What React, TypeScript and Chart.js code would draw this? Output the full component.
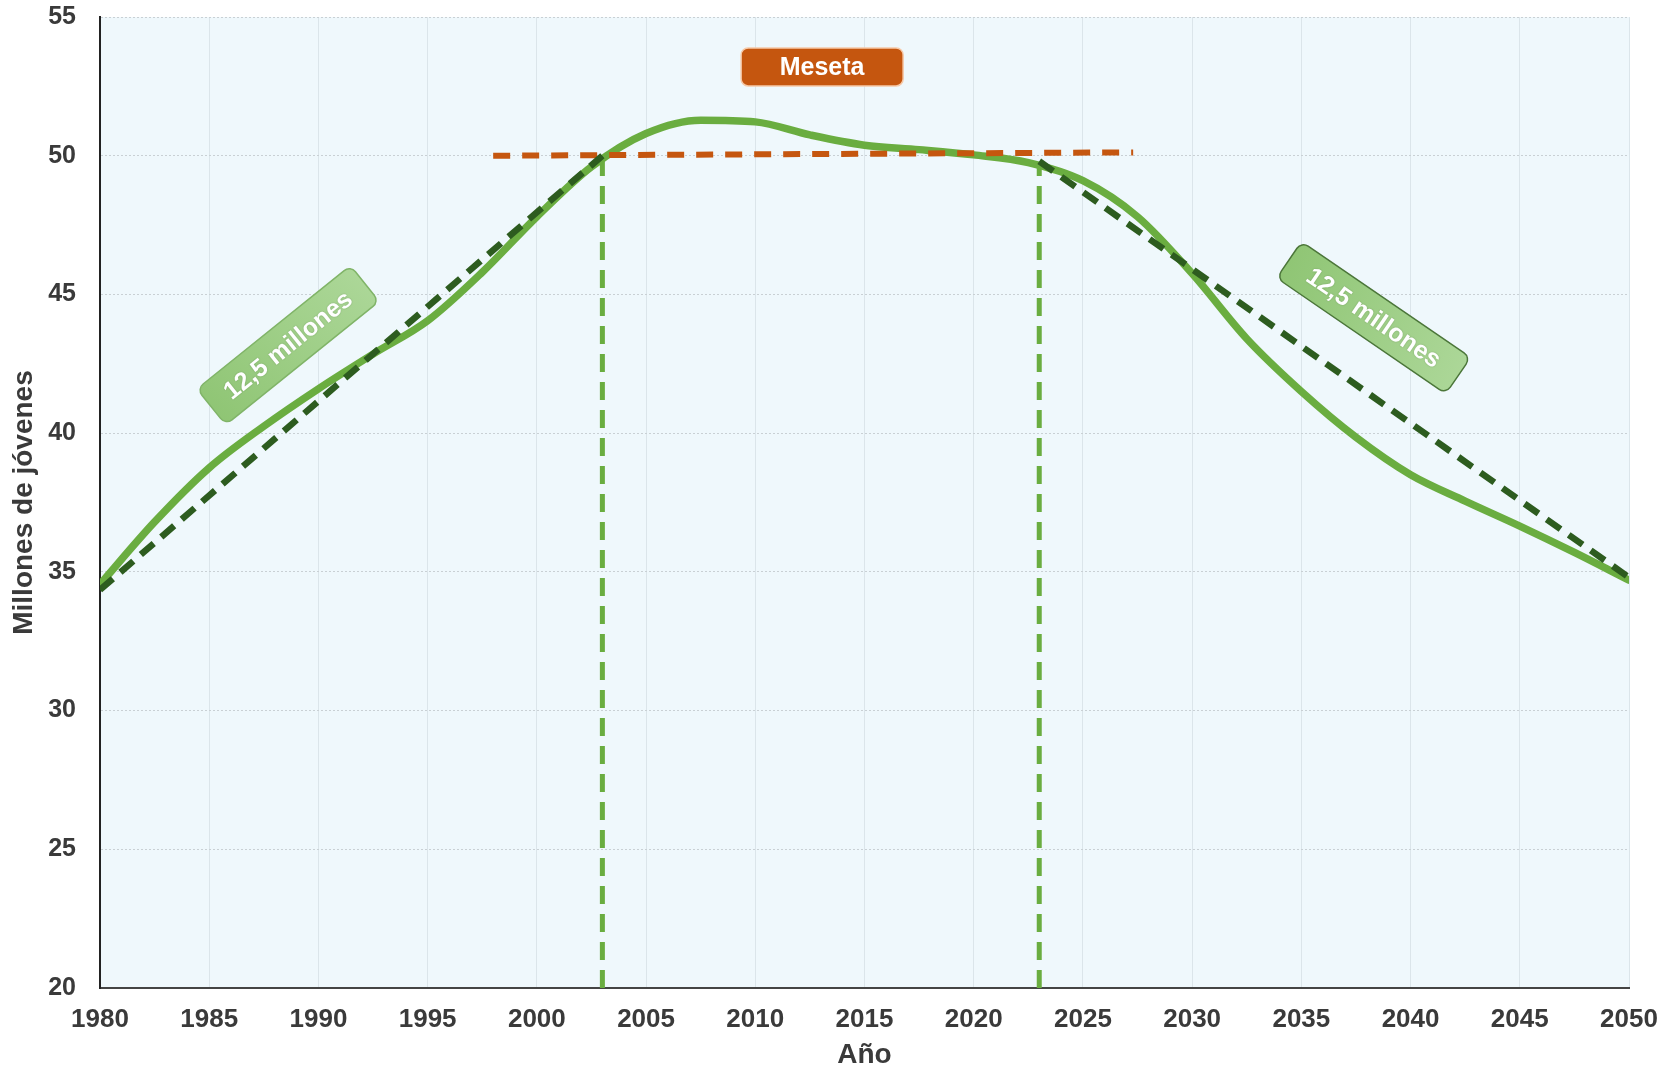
import React, { useEffect, useRef } from "react";
import { Chart, registerables } from "chart.js";

Chart.register(...registerables);

// ---------- data ----------
const years = [
  1980, 1982.5, 1985, 1987.5, 1990, 1992.5, 1995, 1997.5, 2000, 2002.5,
  2005, 2007.5, 2010, 2012.5, 2015, 2017.5, 2020, 2022.5, 2025, 2027.5,
  2030, 2032.5, 2035, 2037.5, 2040, 2042.5, 2045, 2047.5, 2050,
];
const youthMillions = [
  34.55, 36.8, 38.75, 40.25, 41.6, 42.85, 44.05, 45.8, 47.8, 49.6,
  50.8, 51.28, 51.22, 50.75, 50.38, 50.22, 50.03, 49.75, 49.1, 47.8,
  45.75, 43.4, 41.5, 39.85, 38.5, 37.55, 36.65, 35.7, 34.7,
];

const riseTrendYears = [1980, 2003];
const riseTrendValues = [34.35, 50.0];
const fallTrendYears = [2023, 2050];
const fallTrendValues = [49.8, 34.8];
const plateauYears = [1998, 2027.3];
const plateauValues = [50.0, 50.12];
const plateauStartYears = [2003, 2003];
const plateauStartValues = [20, 50.0];
const plateauEndYears = [2023, 2023];
const plateauEndValues = [20, 49.75];

const xTickValues = [1980, 1985, 1990, 1995, 2000, 2005, 2010, 2015, 2020, 2025, 2030, 2035, 2040, 2045, 2050];
const yTickValues = [20, 25, 30, 35, 40, 45, 50, 55];

const xTitle = "Año";
const yTitle = "Millones de jóvenes";
const plateauLabel = "Meseta";
const changeLabel = "12,5 millones";

// ---------- helpers ----------
const toPoints = (xs: number[], ys: number[]) => xs.map((x, i) => ({ x, y: ys[i] }));

const SANS = '"Liberation Sans", Arial, Helvetica, sans-serif';

const backgroundPlugin = {
  id: "plotBackground",
  beforeDraw(chart: any) {
    const { ctx, chartArea } = chart;
    ctx.save();
    ctx.fillStyle = "#ffffff";
    ctx.fillRect(0, 0, chart.width, chart.height);
    ctx.fillStyle = "#eff8fc";
    ctx.fillRect(chartArea.left, chartArea.top, chartArea.right - chartArea.left, chartArea.bottom - chartArea.top);
    ctx.restore();
  },
};

const annotationPlugin = {
  id: "labels",
  afterDatasetsDraw(chart: any) {
    const { ctx, scales } = chart;
    const xs = scales.x;
    const ys = scales.y;

    // "Meseta" box
    const mx = xs.getPixelForValue(2013.06);
    const my = ys.getPixelForValue(53.2);
    ctx.save();
    ctx.beginPath();
    ctx.roundRect(mx - 81, my - 19, 162, 38, 7);
    ctx.fillStyle = "#c5560f";
    ctx.fill();
    ctx.lineWidth = 1.5;
    ctx.strokeStyle = "#f6c9a8";
    ctx.stroke();
    ctx.fillStyle = "#ffffff";
    ctx.font = `bold 25px ${SANS}`;
    ctx.textAlign = "center";
    ctx.textBaseline = "middle";
    ctx.fillText(plateauLabel, mx, my + 1);
    ctx.restore();

    // rotated green labels
    const boxes = [
      { x: 1988.61, y: 43.17, angle: -38.8, w: 197, h: 46, stroke: "#80b468" },
      { x: 2038.31, y: 44.16, angle: 34.4, w: 205, h: 44, stroke: "#4b7639" },
    ];
    boxes.forEach((b) => {
      const px = xs.getPixelForValue(b.x);
      const py = ys.getPixelForValue(b.y);
      ctx.save();
      ctx.translate(px, py);
      ctx.rotate((b.angle * Math.PI) / 180);
      const g = ctx.createLinearGradient(-b.w / 2, b.h / 2, b.w / 2, -b.h / 2);
      g.addColorStop(0, "#8fc574");
      g.addColorStop(1, "#acd798");
      ctx.beginPath();
      ctx.roundRect(-b.w / 2, -b.h / 2, b.w, b.h, 8);
      ctx.fillStyle = g;
      ctx.fill();
      ctx.lineWidth = 1.5;
      ctx.strokeStyle = b.stroke;
      ctx.stroke();
      ctx.fillStyle = "#ffffff";
      ctx.shadowColor = "rgba(40,70,30,0.3)";
      ctx.shadowBlur = 2;
      ctx.font = `bold 25px ${SANS}`;
      ctx.textAlign = "center";
      ctx.textBaseline = "middle";
      ctx.fillText(changeLabel, 0, 1);
      ctx.restore();
    });
  },
};

export default function App() {
  const canvasRef = useRef<HTMLCanvasElement | null>(null);

  useEffect(() => {
    if (!canvasRef.current) return;
    const lineBase = { pointRadius: 0, pointHoverRadius: 0, fill: false, tension: 0 };
    const chart = new Chart(canvasRef.current, {
      type: "line",
      data: {
        datasets: [
          {
            ...lineBase,
            label: "Jóvenes",
            data: toPoints(years, youthMillions),
            borderColor: "#6aad40",
            borderWidth: 7.5,
            cubicInterpolationMode: "monotone",
            borderCapStyle: "round",
            order: 4,
          },
          {
            ...lineBase,
            label: "Inicio meseta",
            data: toPoints(plateauStartYears, plateauStartValues),
            borderColor: "#6aad40",
            borderWidth: 5,
            borderDash: [18, 10],
            order: 5,
          },
          {
            ...lineBase,
            label: "Fin meseta",
            data: toPoints(plateauEndYears, plateauEndValues),
            borderColor: "#6aad40",
            borderWidth: 5,
            borderDash: [18, 10],
            order: 5,
          },
          {
            ...lineBase,
            label: "Meseta",
            data: toPoints(plateauYears, plateauValues),
            borderColor: "#c5560f",
            borderWidth: 6,
            borderDash: [17, 12],
            order: 2,
          },
          {
            ...lineBase,
            label: "Subida",
            data: toPoints(riseTrendYears, riseTrendValues),
            borderColor: "#2d5c1f",
            borderWidth: 6.5,
            borderDash: [17, 10],
            order: 1,
          },
          {
            ...lineBase,
            label: "Bajada",
            data: toPoints(fallTrendYears, fallTrendValues),
            borderColor: "#2d5c1f",
            borderWidth: 6.5,
            borderDash: [17, 10],
            order: 1,
          },
        ],
      },
      options: {
        animation: false,
        responsive: false,
        devicePixelRatio: 1,
        layout: { padding: { top: 17, right: 43, left: 0, bottom: 0 } },
        plugins: { legend: { display: false }, tooltip: { enabled: false } },
        scales: {
          x: {
            type: "linear",
            min: 1980,
            max: 2050,
            afterBuildTicks: (s: any) => {
              s.ticks = xTickValues.map((v) => ({ value: v }));
            },
            afterFit: (s: any) => {
              s.height = 79;
              s.paddingLeft = 0;
              s.paddingRight = 0;
            },
            grid: { color: "#dbe5ea", lineWidth: 1, drawTicks: false },
            border: { display: true, color: "#444444", width: 2 },
            ticks: {
              autoSkip: false,
              maxRotation: 0,
              padding: 16,
              color: "#3a3a3a",
              font: { family: SANS, size: 26, weight: "bold" },
              callback: (v: any) => String(v),
            },
            title: {
              display: true,
              text: xTitle,
              color: "#3a3a3a",
              font: { family: SANS, size: 28, weight: "bold", lineHeight: 0.85 },
              padding: { top: 0, bottom: 0 },
            },
          },
          y: {
            type: "linear",
            min: 20,
            max: 55,
            afterBuildTicks: (s: any) => {
              s.ticks = yTickValues.map((v) => ({ value: v }));
            },
            afterFit: (s: any) => {
              s.width = 100;
              s.paddingTop = 0;
              s.paddingBottom = 0;
            },
            grid: { color: "#c9d0d4", lineWidth: 1, drawTicks: false },
            border: { display: true, color: "#222222", width: 2, dash: [2, 2] },
            ticks: {
              padding: 24,
              color: "#3a3a3a",
              font: { family: SANS, size: 25, weight: "bold" },
              callback: (v: any) => String(v),
            },
            title: {
              display: true,
              text: yTitle,
              color: "#3a3a3a",
              font: { family: SANS, size: 28, weight: "bold", lineHeight: 1 },
              padding: { top: 10, bottom: 0 },
            },
          },
        },
      },
      plugins: [backgroundPlugin, annotationPlugin],
    } as any);
    return () => chart.destroy();
  }, []);

  return (
    <div style={{ position: "absolute", left: 0, top: 0, width: 1672, height: 1067, background: "#ffffff" }}>
      <canvas ref={canvasRef} width={1672} height={1067} style={{ display: "block", width: 1672, height: 1067 }} />
    </div>
  );
}
